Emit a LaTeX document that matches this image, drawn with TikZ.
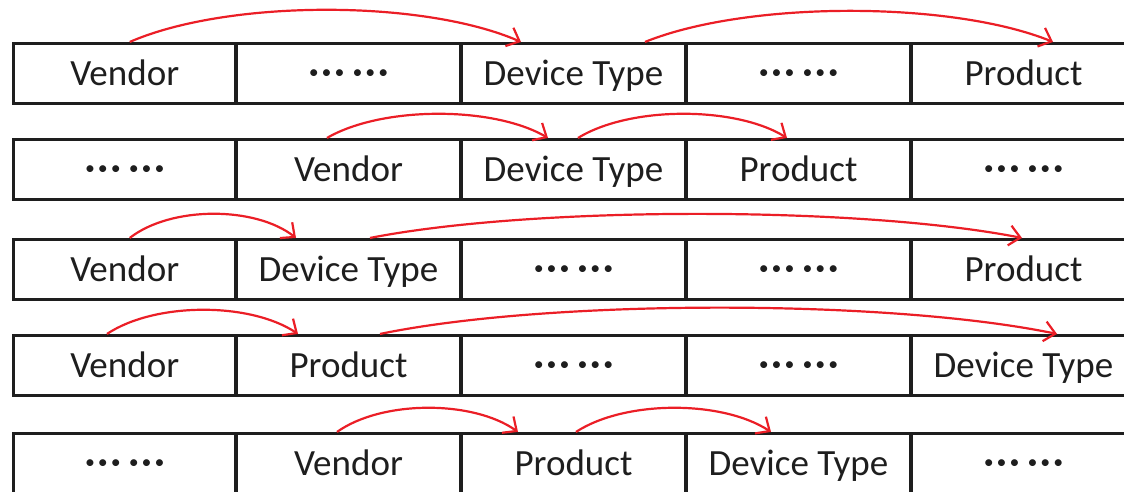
\documentclass[tikz,border=0pt]{standalone}
\usepackage{fontspec}
\setmainfont{Carlito}
\usetikzlibrary{arrows.meta}
\definecolor{linkred}{RGB}{235,30,38}
\definecolor{ink}{RGB}{30,30,30}
% two groups of three mid-height dots
\newcommand{\elide}{\raisebox{2pt}{\bfseries ·\kern3pt·\kern3pt·\kern8pt·\kern3pt·\kern3pt·}}

\begin{document}
\begin{tikzpicture}[x=1pt,y=-1pt,
  cell/.style={draw=ink, line width=3.5pt, minimum height=60pt, inner sep=0pt,
    text height=24.5pt, text depth=0pt, text=ink,
    font=\fontsize{37}{44}\selectfont},
  first/.style={cell, minimum width=222.5pt},
  wide/.style={cell, minimum width=225pt},
  link/.style={draw=linkred, line width=2.2pt,
    -{Straight Barb[length=11pt,width=20pt,line width=2.2pt]}}
]
\useasboundingbox (0,0) rectangle (1124,492);
\clip (0,0) rectangle (1124,492);

% row 1
\node[first] (r1c1) at (124.75,73.7) {Vendor};
\node[wide]  (r1c2) at (348.5,73.7) {\elide};
\node[wide]  (r1c3) at (573.5,73.7) {Device Type};
\node[wide]  (r1c4) at (798.5,73.7) {\elide};
\node[wide]  (r1c5) at (1023.5,73.7) {Product};
% row 2
\node[first] (r2c1) at (124.75,169.7) {\elide};
\node[wide]  (r2c2) at (348.5,169.7) {Vendor};
\node[wide]  (r2c3) at (573.5,169.7) {Device Type};
\node[wide]  (r2c4) at (798.5,169.7) {Product};
\node[wide]  (r2c5) at (1023.5,169.7) {\elide};
% row 3
\node[first] (r3c1) at (124.75,269.7) {Vendor};
\node[wide]  (r3c2) at (348.5,269.7) {Device Type};
\node[wide]  (r3c3) at (573.5,269.7) {\elide};
\node[wide]  (r3c4) at (798.5,269.7) {\elide};
\node[wide]  (r3c5) at (1023.5,269.7) {Product};
% row 4
\node[first] (r4c1) at (124.75,365.7) {Vendor};
\node[wide]  (r4c2) at (348.5,365.7) {Product};
\node[wide]  (r4c3) at (573.5,365.7) {\elide};
\node[wide]  (r4c4) at (798.5,365.7) {\elide};
\node[wide]  (r4c5) at (1023.5,365.7) {Device Type};
% row 5
\node[first] (r5c1) at (124.75,463.7) {\elide};
\node[wide]  (r5c2) at (348.5,463.7) {Vendor};
\node[wide]  (r5c3) at (573.5,463.7) {Product};
\node[wide]  (r5c4) at (798.5,463.7) {Device Type};
\node[wide]  (r5c5) at (1023.5,463.7) {\elide};

% order links
\draw[link] ([xshift=5pt]r1c1.north) .. controls +(98,-42.7) and +(-98,-42.7) .. ([xshift=-52.5pt]r1c3.north);
\draw[link] ([xshift=71.5pt]r1c3.north) .. controls +(102,-41.3) and +(-102,-41.3) .. ([xshift=29.5pt]r1c5.north);

\draw[link] ([xshift=-21.5pt]r2c2.north) .. controls +(55,-32) and +(-55,-32) .. ([xshift=-25.5pt]r2c3.north);
\draw[link] ([xshift=4.5pt]r2c3.north) .. controls +(52,-32) and +(-52,-32) .. ([xshift=-11.5pt]r2c4.north);

\draw[link] ([xshift=5pt]r3c1.north) .. controls +(41,-32) and +(-41,-32) .. ([xshift=-52.5pt]r3c2.north);
\draw[link] ([xshift=21.5pt]r3c2.north) .. controls +(163,-32) and +(-163,-32) .. ([xshift=-1.5pt]r3c5.north);

\draw[link] ([xshift=-17.75pt]r4c1.north) .. controls +(48,-32) and +(-48,-32) .. ([xshift=-50.5pt]r4c2.north);
\draw[link] ([xshift=31.5pt]r4c2.north) .. controls +(169,-35) and +(-169,-35) .. ([xshift=33.5pt]r4c5.north);

\draw[link] ([xshift=-11.5pt]r5c2.north) .. controls +(45,-32) and +(-45,-32) .. ([xshift=-55.5pt]r5c3.north);
\draw[link] ([xshift=2.5pt]r5c3.north) .. controls +(49,-32) and +(-49,-32) .. ([xshift=-27.5pt]r5c4.north);
\end{tikzpicture}
\end{document}
